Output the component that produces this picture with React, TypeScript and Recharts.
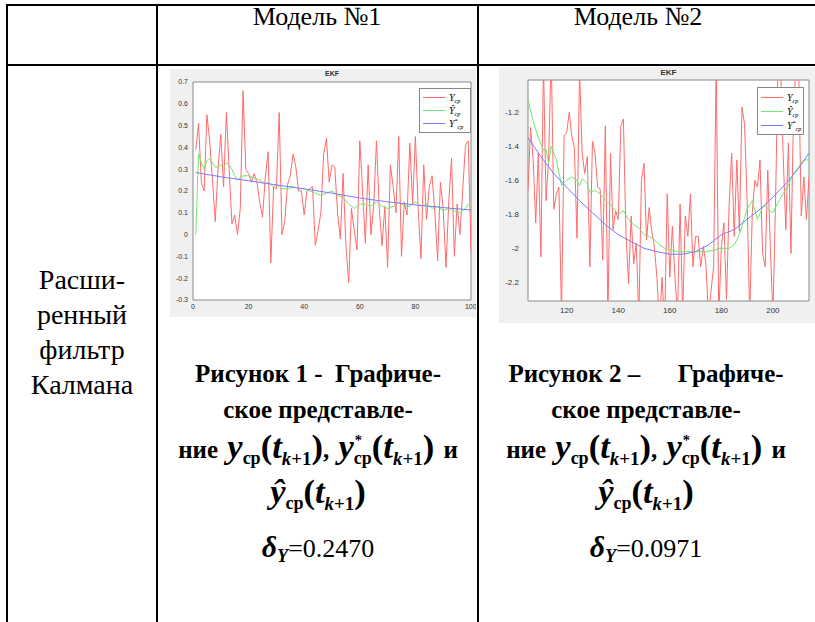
import React from "react";
import { LineChart, Line, XAxis, YAxis, CartesianGrid, ReferenceArea, Legend } from "recharts";

const SERIF = '"Liberation Serif", "Times New Roman", Times, serif';
const SANS = '"Liberation Sans", Arial, sans-serif';

// Model 1: x = 1..100
const m1RedY = [
  0.39, 0.51, 0.24, 0.2, 0.55, 0.43, 0.25, 0.06, 0.3, 0.46,
  0.22, 0.56, 0.3, 0.05, 0.09, 0.0, 0.12, 0.66, 0.3, 0.28,
  0.24, 0.28, 0.24, 0.15, 0.08, 0.26, 0.38, -0.13, 0.22, 0.21,
  0.56, 0.0, 0.06, 0.23, 0.27, 0.37, 0.31, 0.2, 0.2, 0.09,
  0.2, 0.21, 0.22, -0.05, 0.02, 0.1, 0.37, 0.44, 0.24, 0.32,
  0.31, 0.1, -0.02, 0.28, -0.05, -0.22, 0.12, 0.02, -0.07, 0.43,
  0.2, -0.04, 0.32, 0.0, 0.13, 0.43, 0.12, -0.05, 0.13, -0.15,
  0.32, 0.22, 0.1, 0.45, -0.1, 0.15, 0.09, 0.42, 0.14, 0.45,
  0.12, -0.11, 0.32, 0.07, 0.22, 0.27, 0.1, -0.12, 0.24, 0.12,
  -0.15, 0.15, 0.35, -0.1, 0.14, 0.0, 0.2, 0.41, 0.43, -0.08,
];
const m1GreenX = [
  1, 2, 3, 4, 5, 6, 7, 8, 9, 10, 11, 12, 13, 14, 15, 16, 17, 18, 20, 22, 24, 26, 27, 29, 30, 32, 34, 36, 38, 40,
  42, 44, 46, 48, 50, 52, 54, 56, 58, 60, 62, 64, 66, 68, 70, 72, 74, 76, 78, 80, 82, 84, 86, 88, 90, 92, 94, 96, 98, 99, 100,
];
const m1GreenY = [
  0.0, 0.37, 0.33, 0.3, 0.34, 0.35, 0.33, 0.31, 0.31, 0.32, 0.31, 0.33, 0.32, 0.3, 0.27, 0.25, 0.26, 0.27,
  0.27, 0.26, 0.25, 0.23, 0.24, 0.22, 0.23, 0.21, 0.21, 0.22, 0.21, 0.21,
  0.2, 0.19, 0.18, 0.19, 0.2, 0.18, 0.17, 0.14, 0.12, 0.14, 0.14, 0.13, 0.15, 0.13, 0.12, 0.13, 0.15, 0.13, 0.13, 0.15,
  0.13, 0.14, 0.12, 0.13, 0.11, 0.12, 0.11, 0.1, 0.12, 0.14, 0.13,
];
const m1BlueX = [1, 10, 20, 30, 40, 50, 60, 70, 80, 90, 100];
const m1BlueY = [0.285, 0.265, 0.247, 0.228, 0.21, 0.19, 0.168, 0.15, 0.136, 0.124, 0.113];
const m1XTicks = [0, 20, 40, 60, 80, 100];
const m1YTicks = [-0.3, -0.2, -0.1, 0, 0.1, 0.2, 0.3, 0.4, 0.5, 0.6, 0.7];

// Model 2: x = 105..214
const m2RedY = [
  -1.66, -1.29, -1.48, -1.85, -1.44, -2.05, -0.9, -1.72, -1.48, -0.85,
  -1.77, -1.68, -1.64, -2.4, -1.34, -1.32, -1.2, -1.34, -1.41, -1.94,
  -0.95, -1.44, -1.56, -1.46, -2.11, -1.37, -1.44, -1.64, -1.65, -2.07,
  -1.28, -2.4, -1.44, -1.89, -1.78, -1.83, -1.28, -1.24, -1.91, -2.21,
  -1.81, -2.09, -1.97, -2.4, -1.6, -1.5, -1.95, -1.76, -1.9, -1.99,
  -2.17, -2.45, -2.17, -2.45, -1.68, -2.17, -1.87, -2.17, -2.4, -1.74,
  -2.4, -1.81, -1.93, -1.68, -2.11, -1.93, -1.93, -2.11, -1.99, -2.09,
  -2.4, -2.25, -2.11, -0.9, -2.4, -1.99, -1.85, -2.3, -1.75, -1.44,
  -1.93, -1.48, -1.9, -1.17, -1.27, -1.72, -2.4, -1.79, -1.6, -1.64,
  -1.48, -2.03, -2.11, -1.54, -1.99, -2.4, -1.74, -0.9, -0.95, -1.46,
  -1.89, -1.38, -2.03, -1.2, -0.9, -0.95, -1.81, -1.58, -1.83, -1.58,
];
const m2GreenX = [
  105, 107, 109, 111, 112, 113, 114, 116, 118, 120, 122, 124, 125, 126, 128, 129, 131, 133, 134, 136,
  138, 140, 142, 144, 146, 148, 150, 152, 154, 156, 158, 160, 163, 166, 170, 174, 177, 180, 183, 185,
  187, 189, 190, 192, 194, 196, 197, 199, 200, 202, 204, 206, 208, 210, 212, 214,
];
const m2GreenY = [
  -1.13, -1.25, -1.35, -1.42, -1.42, -1.5, -1.4, -1.48, -1.63, -1.6, -1.58, -1.6, -1.63, -1.59, -1.62, -1.67, -1.66, -1.68, -1.7, -1.73,
  -1.76, -1.8, -1.78, -1.83, -1.86, -1.88, -1.92, -1.93, -1.95, -1.98, -2.0, -2.01, -2.02, -2.02, -2.02, -2.02, -2.01, -2.0, -2.0, -1.98,
  -1.92, -1.82, -1.77, -1.72, -1.83, -1.76, -1.75, -1.78, -1.79, -1.73, -1.68, -1.63, -1.56, -1.52, -1.48, -1.48,
];
const m2BlueX = [105, 110, 115, 120, 125, 130, 135, 140, 145, 150, 155, 160, 165, 170, 175, 180, 185, 190, 195, 200, 205, 210, 214];
const m2BlueY = [
  -1.35, -1.46, -1.56, -1.64, -1.72, -1.79, -1.86, -1.92, -1.96, -2.0, -2.02, -2.035, -2.035, -2.02, -1.98, -1.92, -1.89, -1.83,
  -1.77, -1.7, -1.62, -1.53, -1.44,
];
const m2XTicks = [120, 140, 160, 180, 200];
const m2YTicks = [-2.2, -2, -1.8, -1.6, -1.4, -1.2];

const RED = "#ff6b6b";
const GREEN = "#6ee86e";
const BLUE = "#7a7aff";

const zip = (xs: number[], ys: number[]) => xs.map((x, i) => ({ x, y: ys[i] }));
const m1Red = m1RedY.map((y, i) => ({ x: i + 1, y }));
const m1Green = zip(m1GreenX, m1GreenY);
const m1Blue = zip(m1BlueX, m1BlueY);
const m2Red = m2RedY.map((y, i) => ({ x: i + 105, y }));
const m2Green = zip(m2GreenX, m2GreenY);
const m2Blue = zip(m2BlueX, m2BlueY);

const sub: React.CSSProperties = { fontSize: "0.62em", verticalAlign: "-0.3em", lineHeight: 0 };

function LegendLabel({ kind }: { kind: number }) {
  const base = kind === 1 ? "\u0176" : "Y";
  return (
    <span style={{ fontFamily: SERIF, fontStyle: "italic", fontSize: 10 }}>
      {base}
      {kind === 2 ? <sup style={{ fontSize: "0.6em", lineHeight: 0 }}>*</sup> : null}
      <sub style={sub}>cp</sub>
    </span>
  );
}

function LegendBox({ w, rowH }: { w: number; rowH: number }) {
  const cols = [RED, GREEN, BLUE];
  return (
    <div style={{ width: w, background: "#fff", border: "1px solid #888", padding: "2px 0" }}>
      {cols.map((c, i) => (
        <div key={i} style={{ display: "flex", alignItems: "center", height: rowH }}>
          <div style={{ width: 22, height: 1, background: c, marginLeft: 3, marginRight: 4 }} />
          <LegendLabel kind={i} />
        </div>
      ))}
    </div>
  );
}

const tickStyle = (size: number) => ({ fontSize: size, fill: "#333", fontFamily: SANS });

function Cell(props: { left: number; top: number; width: number; children: React.ReactNode; bold?: boolean; size?: number; spacing?: number }) {
  return (
    <div
      style={{
        position: "absolute",
        left: props.left,
        top: props.top,
        width: props.width,
        textAlign: "center",
        fontFamily: SERIF,
        fontWeight: props.bold ? 700 : 400,
        fontSize: props.size || 25,
        lineHeight: "30px",
        whiteSpace: "nowrap",
        wordSpacing: props.spacing || 0,
        color: "#000",
      }}
    >
      {props.children}
    </div>
  );
}

const math: React.CSSProperties = { fontSize: "1.38em", lineHeight: 0 };
const msub: React.CSSProperties = { fontSize: "0.55em", verticalAlign: "-0.35em", lineHeight: 0 };

function Arg() {
  return (
    <span style={math}>
      (<i>t</i>
      <sub style={msub}>
        <i>k</i>+1
      </sub>
      )
    </span>
  );
}

function Y({ mark }: { mark?: string }) {
  return (
    <span style={{ whiteSpace: "nowrap", wordSpacing: 0 }}>
      <i style={math}>{mark === "hat" ? "\u0177" : "y"}</i>
      <sub style={{ fontSize: "0.72em", verticalAlign: "-0.35em", lineHeight: 0, position: "relative" }}>
        {mark === "star" ? <span style={{ position: "absolute", left: 1, top: "-0.55em", fontSize: "0.8em" }}>*</span> : null}
        ср
      </sub>
      <Arg />
    </span>
  );
}

function Caption({ cx, num, dash, delta }: { cx: number; num: number; dash: string; delta: string }) {
  const w = 340;
  const l = cx - w / 2;
  return (
    <>
      <Cell left={l} top={359} width={w} bold>
        Рисунок {num} {dash}
        {num === 2 ? "\u00a0\u00a0\u00a0\u00a0\u00a0\u00a0" : "\u00a0\u00a0"}Графиче-
      </Cell>
      <Cell left={l} top={395} width={w} bold>
        ское представле-
      </Cell>
      <Cell left={l} top={435} width={w} bold spacing={3}>
        ние <Y />, <Y mark="star" /> и
      </Cell>
      <Cell left={l} top={480} width={w} bold>
        <Y mark="hat" />
      </Cell>
      <Cell left={l} top={532} width={w} size={26}>
        <b>
          <i style={{ fontSize: "1.15em" }}>δ</i>
          <sub style={{ fontSize: "0.7em", verticalAlign: "-0.3em", lineHeight: 0 }}>
            <i>Y</i>
          </sub>
        </b>
        =
        {delta}
      </Cell>
    </>
  );
}

function Model1Chart() {
  return (
    <div style={{ position: "absolute", left: 170, top: 69, width: 306, height: 248, background: "#f0f0f0" }}>
      <div style={{ position: "absolute", left: 23, width: 278, top: 1, textAlign: "center", fontFamily: SANS, fontWeight: 700, fontSize: 7, color: "#333" }}>
        EKF
      </div>
      <LineChart width={306} height={248} margin={{ top: 13, right: 5, bottom: 3, left: 5 }}>
        <CartesianGrid fill="#fff" horizontal={false} vertical={false} />
        <XAxis dataKey="x" type="number" domain={[0, 100]} ticks={m1XTicks} allowDataOverflow tick={tickStyle(7)} tickLine={false} axisLine={false} height={14} tickSize={2} tickMargin={2} />
        <YAxis type="number" domain={[-0.3, 0.7]} ticks={m1YTicks} allowDataOverflow tick={tickStyle(7)} tickLine={false} axisLine={false} width={18} tickSize={2} tickMargin={3} />
        <Line data={m1Red} dataKey="y" stroke={RED} strokeWidth={1} dot={false} isAnimationActive={false} />
        <Line data={m1Green} dataKey="y" stroke={GREEN} strokeWidth={1} dot={false} isAnimationActive={false} />
        <Line data={m1Blue} dataKey="y" stroke={BLUE} strokeWidth={1} dot={false} isAnimationActive={false} />
        <ReferenceArea x1={0} x2={100} y1={-0.3} y2={0.7} fill="none" stroke="#888" strokeWidth={1} />
        <Legend layout="horizontal" verticalAlign="middle" content={() => <LegendBox w={50} rowH={13} />} wrapperStyle={{ left: 249, top: 19, width: 52 }} />
      </LineChart>
    </div>
  );
}

function Model2Chart() {
  return (
    <div style={{ position: "absolute", left: 499, top: 67, width: 316, height: 256, background: "#f0f0f0" }}>
      <div style={{ position: "absolute", left: 29, width: 281, top: 1, textAlign: "center", fontFamily: SANS, fontWeight: 700, fontSize: 8, color: "#333" }}>
        EKF
      </div>
      <LineChart width={316} height={256} margin={{ top: 13, right: 6, bottom: 6, left: 5 }}>
        <CartesianGrid fill="#fff" horizontal={false} vertical={false} />
        <XAxis dataKey="x" type="number" domain={[105, 214]} ticks={m2XTicks} allowDataOverflow tick={tickStyle(8)} tickLine={false} axisLine={false} height={16} tickSize={2} tickMargin={4} />
        <YAxis type="number" domain={[-2.31, -1.01]} ticks={m2YTicks} allowDataOverflow tick={tickStyle(8)} tickLine={false} axisLine={false} width={24} tickSize={2} tickMargin={7} />
        <Line data={m2Red} dataKey="y" stroke={RED} strokeWidth={1} dot={false} isAnimationActive={false} />
        <Line data={m2Green} dataKey="y" stroke={GREEN} strokeWidth={1} dot={false} isAnimationActive={false} />
        <Line data={m2Blue} dataKey="y" stroke={BLUE} strokeWidth={1} dot={false} isAnimationActive={false} />
        <ReferenceArea x1={105} x2={214} y1={-2.31} y2={-1.01} fill="none" stroke="#888" strokeWidth={1} />
        <Legend layout="horizontal" verticalAlign="middle" content={() => <LegendBox w={45} rowH={14} />} wrapperStyle={{ left: 258, top: 20, width: 47 }} />
      </LineChart>
    </div>
  );
}

const hLine = (top: number): React.CSSProperties => ({ position: "absolute", left: 6, right: 0, top, height: 2, background: "#000" });
const vLine = (left: number): React.CSSProperties => ({ position: "absolute", left, top: 4, bottom: 0, width: 2, background: "#000" });

const leftLines = ["Расши-", "ренный", "фильтр", "Калмана"];

export default function App() {
  return (
    <div style={{ position: "absolute", left: 0, top: 0, width: 815, height: 622, overflow: "hidden", background: "#fff" }}>
      <div style={hLine(4)} />
      <div style={hLine(64)} />
      <div style={vLine(6)} />
      <div style={vLine(156)} />
      <div style={vLine(477)} />

      <Cell left={158} top={2} width={318} size={26}>Модель №1</Cell>
      <Cell left={479} top={2} width={318} size={26}>Модель №2</Cell>

      <div style={{ position: "absolute", left: 8, top: 262, width: 148, textAlign: "center", fontFamily: SERIF, fontSize: 28, lineHeight: "35px" }}>
        {leftLines.map((t) => (
          <div key={t}>{t}</div>
        ))}
      </div>

      <Model1Chart />
      <Model2Chart />

      <Caption cx={318} num={1} dash="-" delta="0.2470" />
      <Caption cx={646} num={2} dash="–" delta="0.0971" />
    </div>
  );
}
